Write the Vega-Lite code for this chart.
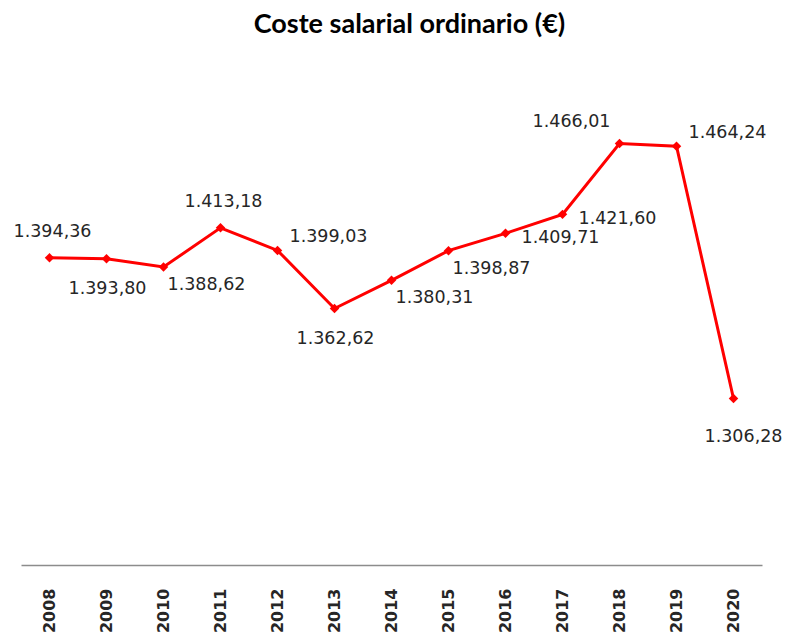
{
  "$schema": "https://vega.github.io/schema/vega-lite/v6.json",
  "autosize": {"type": "none"},
  "width": 741,
  "height": 479,
  "padding": {"left": 21, "top": 86, "right": 23, "bottom": 69},
  "background": "white",
  "title": {
    "text": "Coste salarial ordinario (€)",
    "font": "Lato",
    "fontSize": 27,
    "fontWeight": "bold",
    "color": "#000000",
    "anchor": "middle",
    "frame": "group",
    "dx": 18,
    "offset": 47
  },
  "config": {"view": {"stroke": null}},
  "data": {
    "values": [
      {"year": "2008", "value": 1394.36},
      {"year": "2009", "value": 1393.80},
      {"year": "2010", "value": 1388.62},
      {"year": "2011", "value": 1413.18},
      {"year": "2012", "value": 1399.03},
      {"year": "2013", "value": 1362.62},
      {"year": "2014", "value": 1380.31},
      {"year": "2015", "value": 1398.87},
      {"year": "2016", "value": 1409.71},
      {"year": "2017", "value": 1421.60},
      {"year": "2018", "value": 1466.01},
      {"year": "2019", "value": 1464.24},
      {"year": "2020", "value": 1306.28}
    ]
  },
  "encoding": {
    "x": {
      "field": "year",
      "type": "ordinal",
      "scale": {"type": "point", "padding": 0.5},
      "axis": {
        "title": null,
        "labelAngle": -90,
        "ticks": false,
        "grid": false,
        "domainColor": "#8c8c8c",
        "domainWidth": 1.5,
        "labelPadding": 23,
        "labelFont": "DejaVu Sans",
        "labelFontSize": 16,
        "labelFontWeight": "bold",
        "labelColor": "#262626"
      }
    },
    "y": {
      "field": "value",
      "type": "quantitative",
      "scale": {"domain": [1202, 1502], "zero": false, "nice": false},
      "axis": null
    }
  },
  "layer": [
    {"mark": {"type": "line", "color": "#ff0000", "strokeWidth": 3}},
    {"mark": {"type": "point", "shape": "diamond", "filled": true, "color": "#ff0000", "opacity": 1, "size": 90}},
    {
      "transform": [{"filter": {"field": "year", "oneOf": ["2008", "2011"]}}],
      "mark": {"type": "text", "align": "center", "baseline": "middle", "dx": 3, "dy": -26, "font": "DejaVu Sans", "fontSize": 17.5, "color": "#262626"},
      "encoding": {"text": {"field": "value", "type": "quantitative", "format": ",.2f"}}
    },
    {
      "transform": [{"filter": {"field": "year", "oneOf": ["2018"]}}],
      "mark": {"type": "text", "align": "right", "baseline": "middle", "dx": -9, "dy": -21, "font": "DejaVu Sans", "fontSize": 17.5, "color": "#262626"},
      "encoding": {"text": {"field": "value", "type": "quantitative", "format": ",.2f"}}
    },
    {
      "transform": [{"filter": {"field": "year", "oneOf": ["2009", "2013"]}}],
      "mark": {"type": "text", "align": "center", "baseline": "middle", "dx": 1, "dy": 30, "font": "DejaVu Sans", "fontSize": 17.5, "color": "#262626"},
      "encoding": {"text": {"field": "value", "type": "quantitative", "format": ",.2f"}}
    },
    {
      "transform": [{"filter": {"field": "year", "oneOf": ["2020"]}}],
      "mark": {"type": "text", "align": "center", "baseline": "middle", "dx": 10, "dy": 39, "font": "DejaVu Sans", "fontSize": 17.5, "color": "#262626"},
      "encoding": {"text": {"field": "value", "type": "quantitative", "format": ",.2f"}}
    },
    {
      "transform": [{"filter": {"field": "year", "oneOf": ["2010", "2014", "2015"]}}],
      "mark": {"type": "text", "align": "left", "baseline": "middle", "dx": 4, "dy": 18, "font": "DejaVu Sans", "fontSize": 17.5, "color": "#262626"},
      "encoding": {"text": {"field": "value", "type": "quantitative", "format": ",.2f"}}
    },
    {
      "transform": [{"filter": {"field": "year", "oneOf": ["2016", "2017"]}}],
      "mark": {"type": "text", "align": "left", "baseline": "middle", "dx": 16, "dy": 5, "font": "DejaVu Sans", "fontSize": 17.5, "color": "#262626"},
      "encoding": {"text": {"field": "value", "type": "quantitative", "format": ",.2f"}}
    },
    {
      "transform": [{"filter": {"field": "year", "oneOf": ["2012", "2019"]}}],
      "mark": {"type": "text", "align": "left", "baseline": "middle", "dx": 12, "dy": -13, "font": "DejaVu Sans", "fontSize": 17.5, "color": "#262626"},
      "encoding": {"text": {"field": "value", "type": "quantitative", "format": ",.2f"}}
    }
  ],
  "usermeta": {"embedOptions": {"formatLocale": {"decimal": ",", "thousands": ".", "grouping": [3], "currency": ["", " €"]}}}
}
